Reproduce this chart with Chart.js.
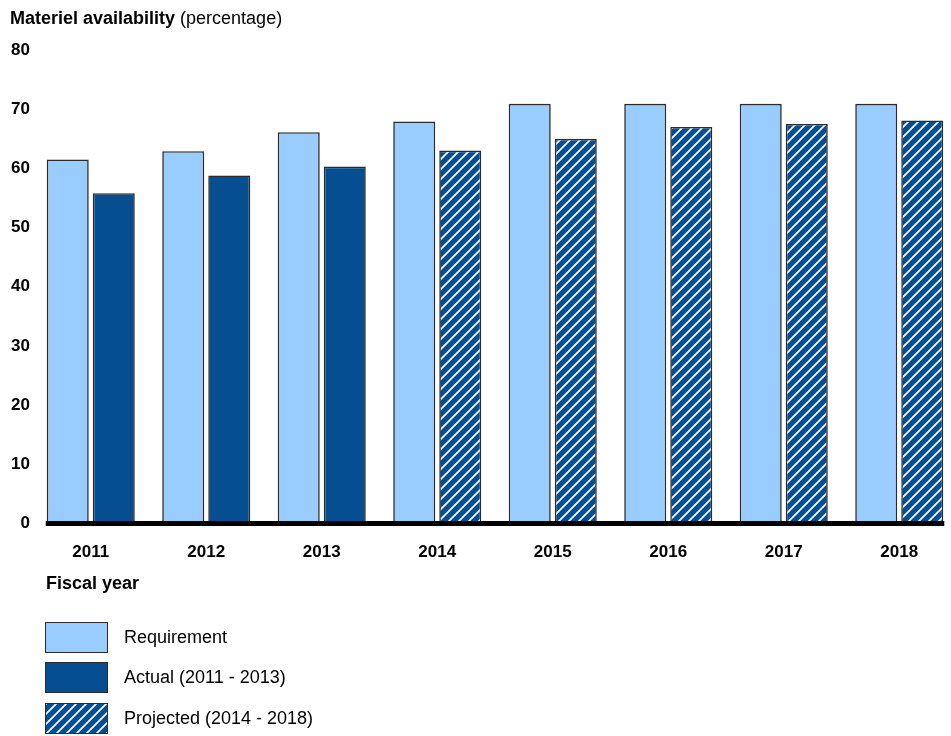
<!DOCTYPE html>
<html lang="en">
<head>
<meta charset="utf-8" />
<title>Materiel availability</title>
<script src="https://cdn.jsdelivr.net/npm/chart.js@4.4.1/dist/chart.umd.min.js"></script>
<style>
  body { margin: 0; background: #fff; overflow: hidden; font-family: "Liberation Sans", Arial, sans-serif; color: #000; }
  #wrap { position: relative; width: 960px; height: 736px; }
  #title { position: absolute; left: 10px; top: 8px; font-size: 18px; white-space: nowrap; }
  #xtitle { position: absolute; left: 46px; top: 573px; font-size: 18px; font-weight: bold; }
  #legend { position: absolute; left: 45px; top: 621px; }
  .item { height: 32px; margin-bottom: 8.5px; display: flex; align-items: center; font-size: 18px; }
  .box { width: 61px; height: 29px; border: 1.5px solid #2b2b2b; margin-right: 16px; }
</style>
</head>
<body>
<div id="wrap">
  <canvas id="chart" width="960" height="736"></canvas>
  <div id="title"><b>Materiel availability</b> (percentage)</div>
  <div id="xtitle">Fiscal year</div>
  <div id="legend"></div>
</div>
<script>
// data
var years = ['2011', '2012', '2013', '2014', '2015', '2016', '2017', '2018'];
var requirement = [61.5, 62.9, 66.1, 67.9, 70.9, 70.9, 70.9, 70.9];
var actual = [55.8, 58.8, 60.3, null, null, null, null, null];
var projected = [null, null, null, 63.0, 65.0, 67.0, 67.5, 68.1];
var seriesLabels = ['Requirement', 'Actual (2011 - 2013)', 'Projected (2014 - 2018)'];

var lightBlue = '#99ccff';
var darkBlue = '#044e91';

// hatch tile for the projected bars
function makeHatch() {
    var s = 10;
    var c = document.createElement('canvas');
    c.width = s; c.height = s;
    var g = c.getContext('2d');
    g.fillStyle = darkBlue;
    g.fillRect(0, 0, s, s);
    g.strokeStyle = '#ffffff';
    g.lineWidth = 1.7;
    g.beginPath();
    g.moveTo(0, s); g.lineTo(s, 0);
    g.moveTo(-2, 2); g.lineTo(2, -2);
    g.moveTo(s - 2, s + 2); g.lineTo(s + 2, s - 2);
    g.stroke();
    return c;
}
var hatchTile = makeHatch();
var ctx = document.getElementById('chart').getContext('2d');
var hatch = ctx.createPattern(hatchTile, 'repeat');

// thick baseline from first bar to last bar
var baseline = {
    id: 'baseline',
    afterDatasetsDraw: function(chart) {
        var y = chart.scales.y.getPixelForValue(0);
        var first = chart.getDatasetMeta(0).data[0];
        var last = chart.getDatasetMeta(2).data[years.length - 1];
        var x0 = first.x - first.width / 2 - 1;
        var x1 = last.x + last.width / 2 + 1;
        var c = chart.ctx;
        c.save();
        c.fillStyle = '#000';
        c.fillRect(x0, y - 2.5, x1 - x0, 5);
        c.restore();
    }
};

var font = { family: '"Liberation Sans", Arial, sans-serif', size: 17, weight: 'bold' };

var chart = new Chart(ctx, {
    type: 'bar',
    data: {
        labels: years,
        datasets: [
            { label: seriesLabels[0], data: requirement, backgroundColor: lightBlue },
            { label: seriesLabels[1], data: actual, backgroundColor: darkBlue },
            { label: seriesLabels[2], data: projected, backgroundColor: hatch }
        ]
    },
    options: {
        responsive: false,
        animation: false,
        skipNull: true,
        categoryPercentage: 0.797,
        barPercentage: 0.913,
        datasets: { bar: { borderColor: '#2b2b2b', borderWidth: 1.6 } },
        layout: { padding: { top: 50, bottom: 172.5, left: 0, right: 3 } },
        plugins: { legend: { display: false }, tooltip: { enabled: false } },
        scales: {
            x: {
                grid: { display: false, drawTicks: false },
                border: { display: false },
                ticks: { color: '#000', font: font, padding: 19, maxRotation: 0 },
                afterFit: function(s) { s.height = 40; }
            },
            y: {
                min: 0, max: 80,
                grid: { display: false, drawTicks: false },
                border: { display: false },
                ticks: { stepSize: 10, color: '#000', font: font, padding: 3 },
                afterFit: function(s) { s.width = 33; }
            }
        }
    },
    plugins: [baseline]
});

// html legend
var fills = [lightBlue, darkBlue, 'url(' + hatchTile.toDataURL() + ')'];
var legend = document.getElementById('legend');
seriesLabels.forEach(function(name, i) {
    var item = document.createElement('div');
    item.className = 'item';
    var box = document.createElement('div');
    box.className = 'box';
    box.style.background = fills[i];
    item.appendChild(box);
    item.appendChild(document.createTextNode(name));
    legend.appendChild(item);
});
</script>
</body>
</html>
